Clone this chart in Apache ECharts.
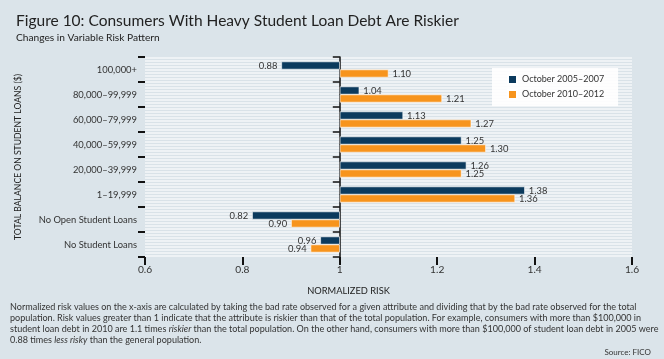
<!DOCTYPE html>
<html><head><meta charset="utf-8">
<script src="https://cdn.jsdelivr.net/npm/echarts@6/dist/echarts.min.js"></script>
<style>html,body{margin:0;padding:0;background:#dbe4ea;}#c{width:664px;height:359px;}</style>
</head><body><div id="c"></div>
<script>
// ---- data ----
const categories = ['100,000+','80,000–99,999','60,000–79,999','40,000–59,999','20,000–39,999','1–19,999','No Open Student Loans','No Student Loans'];
const series2005 = [0.88, 1.04, 1.13, 1.25, 1.26, 1.38, 0.82, 0.96];
const series2010 = [1.10, 1.21, 1.27, 1.30, 1.25, 1.36, 0.90, 0.94];
const seriesNames = ['October 2005–2007','October 2010–2012'];
const xTicks = [0.6, 0.8, 1, 1.2, 1.4, 1.6];
const baseline = 1;

const FONT = 'Lato, "Open Sans", sans-serif';
const chart = echarts.init(document.getElementById('c'), null, {renderer:'canvas'});

// stripe pattern
const pc = document.createElement('canvas');
pc.width = 4; pc.height = 3;
const g = pc.getContext('2d');
g.fillStyle = '#eef2f5'; g.fillRect(0,0,4,2);
g.fillStyle = '#d9e2e8'; g.fillRect(0,2,4,1);

function toItems(arr){
  return arr.map(v => ({
    value: v - baseline,
    label: {position: v < baseline ? 'left' : 'right'}
  }));
}
function fmtTick(v){ return String(Math.round((v + baseline)*10)/10); }

const labelCfg = {
  show: true, fontFamily: FONT, fontSize: 9.4, color: '#333', distance: 4,
  formatter: p => (p.value + baseline).toFixed(2)
};

chart.setOption({
  backgroundColor: '#dbe4ea',
  animation: false,
  title: {
    left: 11, top: 8,
    text: 'Figure 10: Consumers With Heavy Student Loan Debt Are Riskier',
    subtext: 'Changes in Variable Risk Pattern',
    itemGap: 4,
    textStyle: {fontFamily: FONT, fontSize: 15.5, fontWeight: 'normal', color: '#222'},
    subtextStyle: {fontFamily: FONT, fontSize: 10.2, color: '#222'}
  },
  legend: {
    orient: 'vertical', left: 492, top: 68,
    backgroundColor: 'rgba(255,255,255,0.9)',
    padding: [6, 14, 6, 15],
    itemWidth: 9, itemHeight: 9, itemGap: 4, icon: 'rect',
    textStyle: {fontFamily: FONT, fontSize: 9, color: '#333', lineHeight: 11},
    data: seriesNames
  },
  grid: {
    left: 145, top: 57, width: 487, height: 200,
    show: true, borderWidth: 0,
    backgroundColor: {image: pc, repeat: 'repeat'}
  },
  xAxis: {
    type: 'value', min: xTicks[0]-baseline, max: xTicks[xTicks.length-1]-baseline, interval: 0.2,
    axisLine: {show: false},
    axisTick: {show: true, length: 8, lineStyle: {color: '#111', width: 2}},
    splitLine: {show: false},
    axisLabel: {fontFamily: FONT, fontSize: 10.2, color: '#333', margin: 8, formatter: fmtTick}
  },
  yAxis: [{
    type: 'category', data: categories, inverse: true, position: 'left',
    name: 'TOTAL BALANCE ON STUDENT LOANS ($)', nameLocation: 'middle', nameGap: 122, nameRotate: 90,
    nameTextStyle: {fontFamily: FONT, fontSize: 8.6, color: '#222'},
    axisLine: {show: false, onZero: false},
    axisTick: {show: true, length: 7, lineStyle: {color: '#111', width: 2}},
    axisLabel: {fontFamily: FONT, fontSize: 9.4, color: '#333', margin: 8}
  },{
    type: 'category', data: categories, inverse: true, position: 'left',
    axisLine: {show: true, onZero: true, lineStyle: {color: '#111', width: 1.5}},
    axisTick: {show: true, length: 7, lineStyle: {color: '#111', width: 1.5}},
    axisLabel: {show: false}
  }],
  series: [{
    name: seriesNames[0], type: 'bar', yAxisIndex: 0, data: toItems(series2005),
    barWidth: 8, barGap: '0%',
    itemStyle: {color: '#0b3a5d', borderColor: '#ffffff', borderWidth: 0.6},
    label: labelCfg
  },{
    name: seriesNames[1], type: 'bar', yAxisIndex: 0, data: toItems(series2010),
    barWidth: 8, barGap: '0%',
    itemStyle: {color: '#f7941d', borderColor: '#ffffff', borderWidth: 0.6},
    label: labelCfg
  }],
  graphic: [{
    type: 'text', x: 348.5, y: 291,
    style: {fontFamily: FONT, fontSize: 9.3, fill: '#222', text: 'NORMALIZED RISK', align: 'center', verticalAlign: 'middle'}
  },{
    type: 'text', left: 10, top: 301,
    style: {
      fontFamily: FONT, fontSize: 9.05, fill: '#333', lineHeight: 11.3,
      text: '{n|Normalized risk values on the x-axis are calculated by taking the bad rate observed for a given attribute and dividing that by the bad rate observed for the total}\n' +
            '{n|population. Risk values greater than 1 indicate that the attribute is riskier than that of the total population. For example, consumers with more than $100,000 in}\n' +
            '{n|student loan debt in 2010 are 1.1 times }{i|riskier}{n| than the total population. On the other hand, consumers with more than $100,000 of student loan debt in 2005 were}\n' +
            '{n|0.88 times }{i|less risky}{n| than the general population.}',
      rich: {
        n: {fontFamily: FONT, fontSize: 9.05, fill: '#333', lineHeight: 11.3},
        i: {fontFamily: FONT, fontSize: 9.05, fill: '#333', fontStyle: 'italic', lineHeight: 11.3}
      }
    }
  },{
    type: 'text', right: 13, top: 348,
    style: {fontFamily: FONT, fontSize: 8, fill: '#333', text: 'Source: FICO'}
  }]
});
</script></body></html>
